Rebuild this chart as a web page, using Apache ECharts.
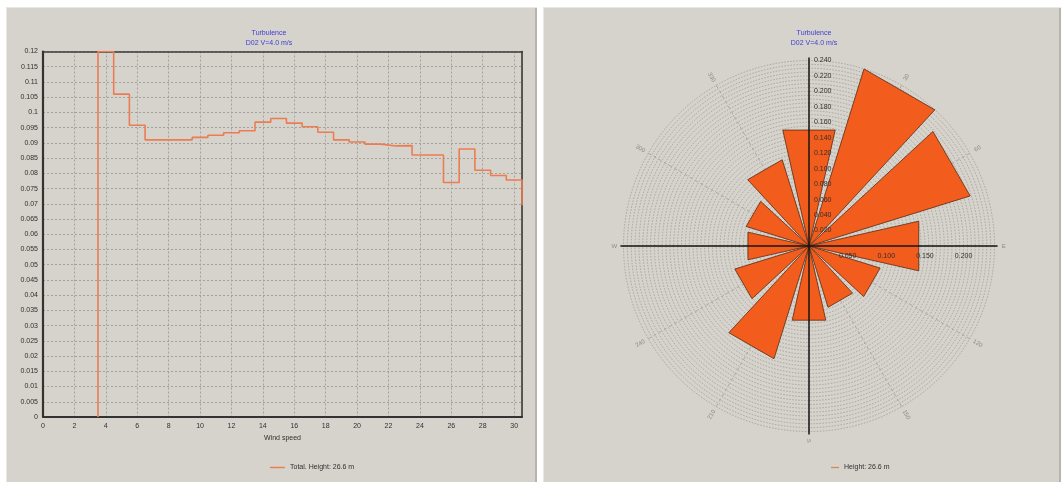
<!DOCTYPE html>
<html>
<head>
<meta charset="utf-8">
<title>Turbulence</title>
<script src="https://cdn.jsdelivr.net/npm/echarts@6/dist/echarts.min.js"></script>
<style>
  html, body { margin: 0; padding: 0; background: #ffffff; width: 1061px; height: 482px; overflow: hidden; }
  .panel { position: absolute; background: #d6d3cc; box-shadow: inset 1px 1px 0 #e9e7e2, inset -2px 0 0 #b7b4ac; }
  #turb { left: 6px; top: 7px; width: 531px; height: 475px; }
  #rose { left: 543px; top: 7px; width: 518px; height: 475px; }
</style>
</head>
<body>
<div id="turb" class="panel"></div>
<div id="rose" class="panel"></div>
<script>
// ---- Turbulence intensity vs. wind speed (step curve, one value per 1 m/s bin) ----
var binStarts = [3.5, 4.5, 5.5, 6.5, 7.5, 8.5, 9.5, 10.5, 11.5, 12.5, 13.5, 14.5, 15.5, 16.5,
                 17.5, 18.5, 19.5, 20.5, 21.5, 22.5, 23.5, 24.5, 25.5, 26.5, 27.5, 28.5, 29.5, 30.5];
var turbulence = [0.120, 0.106, 0.0958, 0.0910, 0.0910, 0.0910, 0.0918, 0.0925, 0.0933, 0.0940,
                  0.0968, 0.0980, 0.0965, 0.0953, 0.0935, 0.0910, 0.0903, 0.0896, 0.0890, 0.0891,
                  0.0860, 0.0860, 0.0770, 0.0880, 0.0810, 0.0793, 0.0778, 0.0695];

// ---- Turbulence rose: 12 direction sectors ----
var sectorAngles = [0, 30, 60, 90, 120, 150, 180, 210, 240, 270, 300, 330];
var sectorTurbulence = [0.150, 0.234, 0.213, 0.142, 0.094, 0.081, 0.096, 0.149, 0.098, 0.079, 0.083, 0.114];

// rose tick labels
var ringTicks = [0.02, 0.04, 0.06, 0.08, 0.10, 0.12, 0.14, 0.16, 0.18, 0.20, 0.22, 0.24];
var ringTickLabels = ['0.020', '0.040', '0.060', '0.080', '0.100', '0.120', '0.140', '0.160', '0.180', '0.200', '0.220', '0.240'];
var eastTicks = [0.05, 0.10, 0.15, 0.20];
var eastTickLabels = ['0.050', '0.100', '0.150', '0.200'];
var directionAngles = [30, 60, 90, 120, 150, 180, 210, 240, 270, 300, 330];
var directionLabels = ['30', '60', 'E', '120', '150', 'S', '210', '240', 'W', '300', '330'];
var crossAngles = [0, 90, 180, 270];

var FONT = "'Liberation Sans', Arial, sans-serif";
var TITLE_BLUE = '#3d3dd8';
var LABEL = '#303030';

function titleBlock(x) {
  return {
    text: 'Turbulence',
    subtext: 'D02 V=4.0 m/s',
    left: x,
    top: 17,
    textAlign: 'center',
    itemGap: 1,
    textStyle: { color: TITLE_BLUE, fontSize: 7, fontWeight: 'normal', fontFamily: FONT, lineHeight: 9 },
    subtextStyle: { color: TITLE_BLUE, fontSize: 7, fontFamily: FONT, lineHeight: 9 }
  };
}

// ---------------- left panel ----------------
var turbChart = echarts.init(document.getElementById('turb'), null, { renderer: 'canvas' });
var stepPoints = [[binStarts[0], 0]];
for (var i = 0; i < binStarts.length; i++) stepPoints.push([binStarts[i], turbulence[i]]);

var gridLine = { show: true, lineStyle: { color: '#a3a19c', type: [2, 2], width: 1 } };
// plain frame axes for the top and right edges of the plot box
var frameAxis = {
  axisLine: { show: true, onZero: false, lineStyle: { color: '#3a3a3a', width: 1.6 } },
  axisTick: { show: false }, axisLabel: { show: false }, splitLine: { show: false }
};
turbChart.setOption({
  animation: false,
  title: titleBlock(258),
  grid: { left: 37, top: 44.5, width: 479, height: 365.5 },
  xAxis: [{
    type: 'value', min: 0, max: 30.5, interval: 2,
    name: 'Wind speed', nameLocation: 'middle', nameGap: 15,
    nameTextStyle: { color: LABEL, fontSize: 7, fontFamily: FONT },
    axisLine: { show: true, onZero: false, lineStyle: { color: '#333', width: 2.2 } },
    axisTick: { show: false },
    axisLabel: { color: LABEL, fontSize: 7, fontFamily: FONT, margin: 6, showMaxLabel: false },
    splitLine: gridLine
  }, Object.assign({ type: 'value', position: 'top', min: 0, max: 30.5 }, frameAxis)],
  yAxis: [{
    type: 'value', min: 0, max: 0.12, interval: 0.005,
    axisLine: { show: true, onZero: false, lineStyle: { color: '#333', width: 2.2 } },
    axisTick: { show: false },
    axisLabel: { color: LABEL, fontSize: 7, fontFamily: FONT, margin: 5 },
    splitLine: gridLine
  }, Object.assign({ type: 'value', position: 'right', min: 0, max: 0.12 }, frameAxis)],
  legend: {
    data: [{ name: 'Total. Height: 26.6 m', icon: 'rect' }],
    left: 259, top: 452, itemWidth: 15, itemHeight: 1.4, itemGap: 4,
    itemStyle: { color: '#ec7d52', borderWidth: 0 },
    textStyle: { color: LABEL, fontSize: 7, fontFamily: FONT }
  },
  series: [{
    name: 'Total. Height: 26.6 m',
    type: 'line',
    step: 'end',
    symbol: 'none',
    data: stepPoints,
    lineStyle: { color: '#ec7d52', width: 1.6 },
    itemStyle: { color: '#ec7d52' },
    z: 3
  }]
});

// ---------------- right panel ----------------
var roseChart = echarts.init(document.getElementById('rose'), null, { renderer: 'canvas' });
var HALF = 12.75; // half opening of each sector, degrees
var ROSE_CENTER = [266, 239];
var ROSE_RADIUS = 185.5;

roseChart.setOption({
  animation: false,
  title: titleBlock(266),
  polar: { center: ROSE_CENTER, radius: ROSE_RADIUS },
  angleAxis: {
    type: 'value', min: 0, max: 360, interval: 30, startAngle: 90, clockwise: true,
    axisLine: { show: false }, axisTick: { show: false }, axisLabel: { show: false },
    splitLine: { show: true, lineStyle: { color: '#9d9b96', type: [3, 3], width: 0.8 } }
  },
  radiusAxis: {
    type: 'value', min: 0, max: 0.24, interval: 0.005,
    axisLine: { show: false }, axisTick: { show: false }, axisLabel: { show: false },
    splitLine: { show: true, lineStyle: { color: '#9b9994', type: [1.5, 1.5], width: 0.8 } }
  },
  legend: {
    data: [{ name: 'Height: 26.6 m', icon: 'rect' }],
    left: 283, top: 452, itemWidth: 8, itemHeight: 1.2, itemGap: 4,
    itemStyle: { color: '#d98256', borderWidth: 0 },
    textStyle: { color: LABEL, fontSize: 7, fontFamily: FONT }
  },
  series: [
    {
      name: 'Height: 26.6 m',
      type: 'custom',
      coordinateSystem: 'polar',
      itemStyle: { color: '#f25c1c' },
      data: sectorAngles.map(function (a, k) { return [sectorTurbulence[k], a]; }),
      renderItem: function (params, api) {
        var r = api.value(0), a = api.value(1);
        var rc = r / Math.cos(HALF * Math.PI / 180);
        var c = api.coord([0, a]);
        var p1 = api.coord([rc, a - HALF]);
        var p2 = api.coord([rc, a + HALF]);
        return {
          type: 'polygon',
          shape: { points: [[c[0], c[1]], [p1[0], p1[1]], [p2[0], p2[1]]] },
          style: { fill: '#f25c1c', stroke: '#5a2a12', lineWidth: 0.8 }
        };
      },
      z: 2
    },
    {
      name: 'axes',
      type: 'custom',
      coordinateSystem: 'polar',
      silent: true,
      data: crossAngles.map(function (a) { return [0.244, a]; }),
      renderItem: function (params, api) {
        var a = api.value(1);
        var c = api.coord([0, a]);
        var e = api.coord([api.value(0), a]);
        return {
          type: 'line',
          shape: { x1: c[0], y1: c[1], x2: e[0], y2: e[1] },
          style: { stroke: '#151515', lineWidth: 1.5 }
        };
      },
      z: 3
    },
    {
      name: 'ringLabels',
      type: 'custom',
      coordinateSystem: 'polar',
      silent: true,
      data: ringTicks.map(function (v) { return [v, 0]; }),
      renderItem: function (params, api) {
        var p = api.coord([api.value(0), 0]);
        return {
          type: 'text', x: p[0] + 5, y: p[1],
          style: { text: ringTickLabels[params.dataIndex], fill: LABEL, fontSize: 7, fontFamily: FONT, align: 'left', verticalAlign: 'middle' }
        };
      },
      z: 4
    },
    {
      name: 'eastLabels',
      type: 'custom',
      coordinateSystem: 'polar',
      silent: true,
      data: eastTicks.map(function (v) { return [v, 90]; }),
      renderItem: function (params, api) {
        var p = api.coord([api.value(0), 90]);
        return {
          type: 'text', x: p[0], y: p[1] + 10,
          style: { text: eastTickLabels[params.dataIndex], fill: LABEL, fontSize: 7, fontFamily: FONT, align: 'center', verticalAlign: 'middle' }
        };
      },
      z: 4
    },
    {
      name: 'directionLabels',
      type: 'custom',
      coordinateSystem: 'polar',
      silent: true,
      data: directionAngles.map(function (a) { return [0.252, a]; }),
      renderItem: function (params, api) {
        var a = api.value(1);
        var p = api.coord([api.value(0), a]);
        var rot = (a <= 180 ? 90 - a : 270 - a) * Math.PI / 180;
        return {
          type: 'text', x: p[0], y: p[1], rotation: rot,
          style: { text: directionLabels[params.dataIndex], fill: '#8e8c87', fontSize: 6, fontFamily: FONT, align: 'center', verticalAlign: 'middle' }
        };
      },
      z: 4
    }
  ]
});
</script>
</body>
</html>
